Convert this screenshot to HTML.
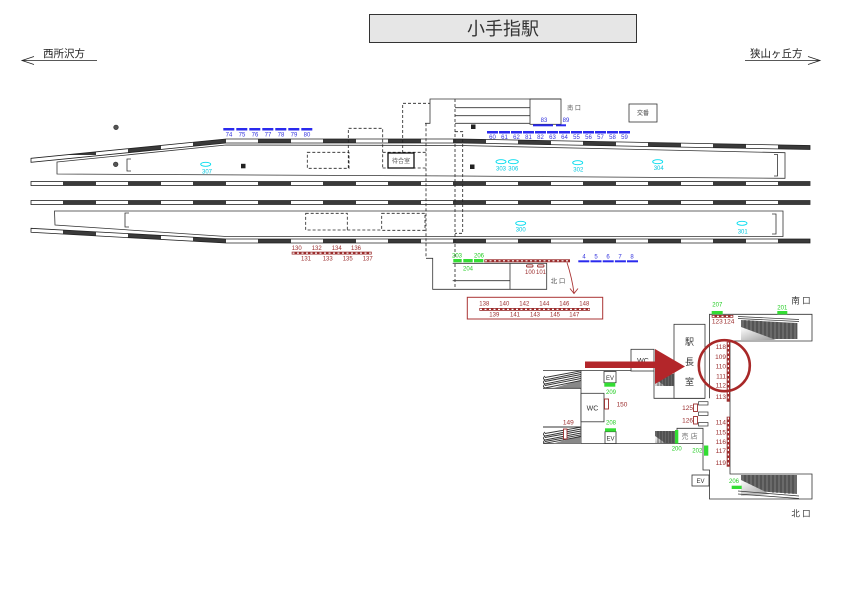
<!DOCTYPE html>
<html><head><meta charset="utf-8">
<style>
html,body{margin:0;padding:0;background:#fff;}
svg{display:block;}
text{font-family:"Liberation Sans","Noto Sans CJK JP",sans-serif;}
</style></head>
<body>
<svg width="842" height="595" viewBox="0 0 842 595" xmlns="http://www.w3.org/2000/svg">
<defs>
<clipPath id="ru"><polygon points="31,158.3 226,139 460,139 810,145.5 810,149.5 460,143 226,143 31,162.3"/></clipPath>
<clipPath id="rl"><polygon points="31,228.3 226,239 810,239 810,243 226,243 31,232.3"/></clipPath>
<linearGradient id="esc" x1="0" y1="0" x2="1" y2="1"><stop offset="0" stop-color="#fff"/><stop offset="1" stop-color="#999"/></linearGradient>
</defs>

<!-- Title -->
<rect x="369.5" y="14.5" width="267" height="28" fill="#e6e6e6" stroke="#333" stroke-width="1"/>
<text x="503" y="35" font-size="18" text-anchor="middle" fill="#333">小手指駅</text>

<!-- Direction labels -->
<text x="43" y="57" font-size="10.5" fill="#222">西所沢方</text>
<path d="M22,60.5 H97 M34,56.5 L22,60.5 L34,64.5" fill="none" stroke="#222" stroke-width="0.8"/>
<text x="750" y="57" font-size="10.5" fill="#222">狭山ヶ丘方</text>
<path d="M745,60.5 H820 M808,56.5 L820,60.5 L808,64.5" fill="none" stroke="#222" stroke-width="0.8"/>

<!-- Rails straight -->
<g stroke="#222" stroke-width="0.8">
<rect x="31" y="181.5" width="779" height="4" fill="#fff"/>
<rect x="31" y="200.5" width="779" height="4" fill="#fff"/>
</g>
<g fill="#3a3a3a">
<rect x="63" y="181.5" width="33" height="4"/><rect x="128" y="181.5" width="33" height="4"/><rect x="193" y="181.5" width="33" height="4"/><rect x="258" y="181.5" width="33" height="4"/><rect x="323" y="181.5" width="33" height="4"/><rect x="388" y="181.5" width="33" height="4"/><rect x="453" y="181.5" width="33" height="4"/><rect x="518" y="181.5" width="33" height="4"/><rect x="583" y="181.5" width="33" height="4"/><rect x="648" y="181.5" width="33" height="4"/><rect x="713" y="181.5" width="33" height="4"/><rect x="778" y="181.5" width="32" height="4"/>
<rect x="63" y="200.5" width="33" height="4"/><rect x="128" y="200.5" width="33" height="4"/><rect x="193" y="200.5" width="33" height="4"/><rect x="258" y="200.5" width="33" height="4"/><rect x="323" y="200.5" width="33" height="4"/><rect x="388" y="200.5" width="33" height="4"/><rect x="453" y="200.5" width="33" height="4"/><rect x="518" y="200.5" width="33" height="4"/><rect x="583" y="200.5" width="33" height="4"/><rect x="648" y="200.5" width="33" height="4"/><rect x="713" y="200.5" width="33" height="4"/><rect x="778" y="200.5" width="32" height="4"/>
</g>

<!-- Slanted outer rails -->
<polygon points="31,158.3 226,139 460,139 810,145.5 810,149.5 460,143 226,143 31,162.3" fill="#fff"/>
<g clip-path="url(#ru)" fill="#3a3a3a">
<rect x="63" y="130" width="33" height="25"/><rect x="128" y="130" width="33" height="25"/><rect x="193" y="130" width="33" height="25"/><rect x="258" y="130" width="33" height="25"/><rect x="323" y="130" width="33" height="25"/><rect x="388" y="130" width="33" height="25"/><rect x="453" y="130" width="33" height="25"/><rect x="518" y="130" width="33" height="25"/><rect x="583" y="130" width="33" height="25"/><rect x="648" y="130" width="33" height="25"/><rect x="713" y="130" width="33" height="25"/><rect x="778" y="130" width="33" height="25"/>
</g>
<polygon points="31,158.3 226,139 460,139 810,145.5 810,149.5 460,143 226,143 31,162.3" fill="none" stroke="#222" stroke-width="0.8"/>

<polygon points="31,228.3 226,239 810,239 810,243 226,243 31,232.3" fill="#fff"/>
<g clip-path="url(#rl)" fill="#3a3a3a">
<rect x="63" y="222" width="33" height="25"/><rect x="128" y="222" width="33" height="25"/><rect x="193" y="222" width="33" height="25"/><rect x="258" y="222" width="33" height="25"/><rect x="323" y="222" width="33" height="25"/><rect x="388" y="222" width="33" height="25"/><rect x="453" y="222" width="33" height="25"/><rect x="518" y="222" width="33" height="25"/><rect x="583" y="222" width="33" height="25"/><rect x="648" y="222" width="33" height="25"/><rect x="713" y="222" width="33" height="25"/><rect x="778" y="222" width="33" height="25"/>
</g>
<polygon points="31,228.3 226,239 810,239 810,243 226,243 31,232.3" fill="none" stroke="#222" stroke-width="0.8"/>

<!-- Platforms -->
<polygon points="57,162 226,145 460,145.5 785,152.7 785,178.3 460,176 57,174" fill="#fff" stroke="#333" stroke-width="0.8"/>
<polygon points="54.5,211 783,211 783,236.5 226,236.5 55,225" fill="#fff" stroke="#333" stroke-width="0.8"/>
<g fill="none" stroke="#333" stroke-width="0.8">
<path d="M131,159 H127 V171 H131"/>
<path d="M129,213 H125 V227 H129"/>
<path d="M774,154.5 H777.5 V176 H774"/>
<path d="M772,214 H776 V234 H772"/>
</g>

<!-- Dashed concourse outlines -->
<g fill="none" stroke="#222" stroke-width="0.8" stroke-dasharray="3,2">
<rect x="307.3" y="152.3" width="41.7" height="16"/>
<path d="M348.3,168 V128.3 H382.7 V168"/>
<path d="M382.7,152.3 H426 M382.7,168 H426"/>
<path d="M402.7,153 V103.3 H430"/>
<path d="M426,123.3 V258.3"/>
<path d="M455,99 V289"/>
<path d="M455,131.7 H462.7 V233.3 H455"/>
<rect x="305.7" y="213.3" width="41.6" height="16.7"/>
<rect x="381.7" y="213.3" width="43.3" height="17"/>
<path d="M347.3,230 H381.7"/>
</g>
<g fill="none" stroke="#333" stroke-width="0.8">
<path d="M425,123.3 H430 V99 H561"/>
<path d="M455,107.7 H530 M455,115.7 H530 M455,123.3 H530"/>
<rect x="530" y="99" width="31" height="25.3"/>
<path d="M426,258.3 H432.7 V289.3 H546.7 V263.3 H452.7"/>
<path d="M510,263.3 V289.3 M452.7,280.7 H510"/>
<rect x="629" y="104" width="28" height="18"/>
</g>
<rect x="388" y="153" width="26" height="15" fill="#fff" stroke="#111" stroke-width="1.3"/>
<text x="401" y="163" font-size="6" text-anchor="middle" fill="#555">待合室</text>
<text x="643" y="115" font-size="6" text-anchor="middle" fill="#444">交番</text>
<text x="574" y="110" font-size="6" text-anchor="middle" fill="#555">南 口</text>
<text x="558" y="283" font-size="6.5" text-anchor="middle" fill="#555">北 口</text>

<!-- Dots and squares -->
<circle cx="116" cy="127.3" r="2.3" fill="#555" stroke="#222" stroke-width="0.6"/>
<circle cx="115.7" cy="164.3" r="2.3" fill="#555" stroke="#222" stroke-width="0.6"/>
<rect x="241" y="163.8" width="4.5" height="4.5" fill="#222"/>
<rect x="471" y="124.5" width="4.5" height="4.5" fill="#222"/>
<rect x="470" y="164.5" width="4.5" height="4.5" fill="#222"/>

<!-- Cyan symbols -->
<g fill="none" stroke="#00dcee" stroke-width="0.9">
<ellipse cx="205.7" cy="164.3" rx="5" ry="2"/>
<ellipse cx="501" cy="161.7" rx="5" ry="2"/>
<ellipse cx="513.3" cy="161.7" rx="5" ry="2"/>
<ellipse cx="577.7" cy="162.7" rx="5" ry="2"/>
<ellipse cx="657.7" cy="161.7" rx="5" ry="2"/>
<ellipse cx="520.7" cy="223.3" rx="5" ry="2"/>
<ellipse cx="742" cy="223.3" rx="5" ry="2"/>
</g>
<g font-size="6" fill="#00c8e0" text-anchor="middle">
<text x="207" y="173.5">307</text>
<text x="501" y="170.5">303</text>
<text x="513.3" y="170.5">306</text>
<text x="578.3" y="171.5">302</text>
<text x="658.7" y="170">304</text>
<text x="520.7" y="231.5">300</text>
<text x="742.7" y="233.5">301</text>
</g>

<!-- Blue bars -->
<g fill="#2a2aee">
<rect x="223.3" y="128" width="11" height="2.5"/><rect x="236.3" y="128" width="11" height="2.5"/><rect x="249.3" y="128" width="11" height="2.5"/><rect x="262.3" y="128" width="11" height="2.5"/><rect x="275.3" y="128" width="11" height="2.5"/><rect x="288.3" y="128" width="11" height="2.5"/><rect x="301.3" y="128" width="11" height="2.5"/>
<rect x="487" y="131" width="11" height="2.5"/><rect x="499" y="131" width="11" height="2.5"/><rect x="511" y="131" width="11" height="2.5"/><rect x="523" y="131" width="11" height="2.5"/><rect x="535" y="131" width="11" height="2.5"/><rect x="547" y="131" width="11" height="2.5"/><rect x="559" y="131" width="11" height="2.5"/><rect x="571" y="131" width="11" height="2.5"/><rect x="583" y="131" width="11" height="2.5"/><rect x="595" y="131" width="11" height="2.5"/><rect x="607" y="131" width="11" height="2.5"/><rect x="619" y="131" width="11" height="2.5"/>
<rect x="533" y="124.3" width="20" height="2"/><rect x="556" y="124.3" width="10" height="2"/>
<rect x="578.3" y="260.3" width="11" height="2"/><rect x="590.5" y="260.3" width="11" height="2"/><rect x="602.7" y="260.3" width="11" height="2"/><rect x="614.9" y="260.3" width="11" height="2"/><rect x="627" y="260.3" width="11" height="2"/>
</g>
<g font-size="6" fill="#3333dd" text-anchor="middle">
<text x="229" y="136.5">74</text><text x="242" y="136.5">75</text><text x="255" y="136.5">76</text><text x="268" y="136.5">77</text><text x="281" y="136.5">78</text><text x="294" y="136.5">79</text><text x="307" y="136.5">80</text>
<text x="492.5" y="139">60</text><text x="504.5" y="139">61</text><text x="516.5" y="139">62</text><text x="528.5" y="139">81</text><text x="540.5" y="139">82</text><text x="552.5" y="139">63</text><text x="564.5" y="139">64</text><text x="576.5" y="139">55</text><text x="588.5" y="139">56</text><text x="600.5" y="139">57</text><text x="612.5" y="139">58</text><text x="624.5" y="139">59</text>
<text x="544" y="122">83</text><text x="566" y="122">89</text>
<text x="584" y="258.5">4</text><text x="596" y="258.5">5</text><text x="608" y="258.5">6</text><text x="620" y="258.5">7</text><text x="632" y="258.5">8</text>
</g>

<!-- Red gate bars -->
<rect x="291.7" y="251.7" width="80" height="2.8" fill="#9b2d2d"/>
<line x1="292.5" y1="253.1" x2="371" y2="253.1" stroke="#fff" stroke-width="1.2" stroke-dasharray="2,2.5"/>
<rect x="484.3" y="259.3" width="85.7" height="3" fill="#9b2d2d"/>
<line x1="485" y1="260.8" x2="569.5" y2="260.8" stroke="#fff" stroke-width="1.2" stroke-dasharray="2,2.5"/>
<rect x="479.3" y="308" width="110.7" height="2.8" fill="#9b2d2d"/>
<line x1="480" y1="309.4" x2="589.5" y2="309.4" stroke="#fff" stroke-width="1.2" stroke-dasharray="2,2.5"/>
<g fill="#fff" stroke="#9b2d2d" stroke-width="0.9">
<rect x="526.5" y="264.8" width="6.5" height="2.2" rx="1"/>
<rect x="537.5" y="264.8" width="6.5" height="2.2" rx="1"/>
</g>
<g font-size="6" fill="#9b2d2d" text-anchor="middle">
<text x="296.7" y="249.8">130</text><text x="316.7" y="249.8">132</text><text x="336.7" y="249.8">134</text><text x="356" y="249.8">136</text>
<text x="306" y="260.5">131</text><text x="327.7" y="260.5">133</text><text x="347.7" y="260.5">135</text><text x="367.7" y="260.5">137</text>
<text x="530" y="274">100</text><text x="541" y="274">101</text>
<text x="484.3" y="305.5">138</text><text x="504.3" y="305.5">140</text><text x="524.3" y="305.5">142</text><text x="544.3" y="305.5">144</text><text x="564.3" y="305.5">146</text><text x="584.3" y="305.5">148</text>
<text x="494.3" y="316.3">139</text><text x="515" y="316.3">141</text><text x="535" y="316.3">143</text><text x="555" y="316.3">145</text><text x="574.3" y="316.3">147</text>
</g>
<rect x="467.3" y="297.3" width="135.4" height="21.7" fill="none" stroke="#a33" stroke-width="1"/>
<path d="M567,262.5 Q572,278 574,293" fill="none" stroke="#a33" stroke-width="0.9"/>
<path d="M570,288.5 L574,293.5 L578,288.5" fill="none" stroke="#a33" stroke-width="0.9"/>

<!-- Green bars (main) -->
<g fill="#33dd33">
<rect x="453.3" y="259" width="8.4" height="3.3"/><rect x="463.3" y="259" width="9.4" height="3.3"/><rect x="474" y="259" width="9.3" height="3.3"/>
</g>
<g font-size="6" fill="#22cc22" text-anchor="middle">
<text x="457" y="257.3">203</text><text x="479" y="257.3">206</text><text x="468" y="270.5">204</text>
</g>

<!-- ===== Inset ===== -->
<g fill="none" stroke="#333" stroke-width="0.8">
<path d="M543,370.5 H631"/>
<path d="M581,370.5 V443.5"/>
<path d="M543,443.5 H703"/>
<rect x="581" y="393.3" width="23" height="28.5" fill="#fff"/>
<rect x="631" y="349.3" width="23" height="21.7" fill="#fff"/>
<path d="M654,371 V398.3 H705"/>
<rect x="674" y="324.3" width="31" height="74" fill="#fff"/>
<path d="M677,443.5 V428.3 H703 V470 H709.5 V499 H812 V474 H730 V341 H812 V314.3 H709.5 V398.3"/>
<rect x="692" y="475" width="17" height="11" fill="#fff"/>
<rect x="604" y="371.5" width="12" height="11.2" fill="#fff"/>
<rect x="605" y="431.7" width="11" height="11.8" fill="#fff"/>
</g>
<g fill="#fff" stroke="#333" stroke-width="0.7">
<rect x="698.5" y="401.7" width="9.5" height="3.3"/>
<rect x="698.5" y="412" width="9.5" height="3.5"/>
<rect x="698.5" y="422.5" width="9.5" height="3.5"/>
</g>

<!-- left escalators (side view) -->
<g>
<polygon points="553,388.3 581,380 581,388.3" fill="#888"/>
<g fill="none" stroke="#333" stroke-width="0.9">
<path d="M545,376 Q542,378.5 545,380 L581,372.5"/>
<path d="M545,377.5 L581,370.8"/>
<path d="M545,380 Q542,382.5 545,384 L581,376.5"/>
<path d="M545,381.5 L581,374.5"/>
<path d="M545,384 Q542,386.5 545,388 L581,380.5"/>
<path d="M545,385.5 L581,378.5"/>
<path d="M543,388.3 H581"/>
</g>
<polygon points="553,443.5 581,435.5 581,443.5" fill="#888"/>
<g fill="none" stroke="#333" stroke-width="0.9">
<path d="M543,427 H581"/>
<path d="M545,432 Q542,434.5 545,436 L581,429"/>
<path d="M545,433.5 L581,427.2"/>
<path d="M545,436 Q542,438.5 545,440 L581,433"/>
<path d="M545,437.5 L581,431"/>
<path d="M545,440 Q542,442.5 545,443.3 L581,436.5"/>
<path d="M545,441.5 L581,434.8"/>
</g>
</g>

<!-- small escalators -->
<g>
<polygon points="655,374 674,374 674,386 655,386" fill="#666"/>
<polygon points="655,379 655,386 665,386" fill="url(#esc)"/>
<path d="M658,374 V386 M661,374 V386 M664,374 V386 M667,374 V386 M670,374 V386 M673,374 V386" stroke="#222" stroke-width="0.6"/>
<polygon points="655,431 675,431 675,443 655,443" fill="#666"/>
<polygon points="655,436 655,443 665,443" fill="url(#esc)"/>
<path d="M658,431 V443 M661,431 V443 M664,431 V443 M667,431 V443 M670,431 V443 M673,431 V443" stroke="#222" stroke-width="0.6"/>
</g>

<!-- top right escalator -->
<g>
<polygon points="741,320 797,323 797,339 741,339" fill="#6a6a6a"/>
<path d="M745,320 V339 M749,320 V339 M753,320.5 V339 M757,321 V339 M761,321 V339 M765,321.5 V339 M769,321.5 V339 M773,322 V339 M777,322 V339 M781,322.5 V339 M785,322.5 V339 M789,323 V339 M793,323 V339 M797,323 V339" stroke="#222" stroke-width="0.6"/>
<polygon points="741,327 741,340 776,340" fill="url(#esc)"/>
<path d="M738,316.5 L799,319.5 M738,318.5 L799,321.5" stroke="#333" stroke-width="0.7" fill="none"/>
</g>
<!-- bottom right escalator -->
<g>
<polygon points="741,475 797,475 797,494 741,490" fill="#6a6a6a"/>
<path d="M745,475 V490 M749,475 V491 M753,475 V491 M757,475 V491 M761,475 V492 M765,475 V492 M769,475 V492 M773,475 V493 M777,475 V493 M781,475 V493 M785,475 V494 M789,475 V494 M793,475 V494" stroke="#222" stroke-width="0.6"/>
<polygon points="741,480 741,496 770,494" fill="url(#esc)"/>
<path d="M738,491 L799,496 M738,494 L799,498.5" stroke="#333" stroke-width="0.7" fill="none"/>
</g>

<!-- green bars inset -->
<g fill="#33dd33">
<rect x="604.3" y="382.7" width="11" height="4"/>
<rect x="605" y="428.3" width="11" height="3.4"/>
<rect x="675" y="430" width="3.3" height="13.5"/>
<rect x="704" y="445.5" width="4.3" height="10.2"/>
<rect x="711.7" y="311" width="11" height="3.3"/>
<rect x="777.3" y="311" width="10" height="3.3"/>
<rect x="731.7" y="485.7" width="10" height="3.3"/>
</g>
<g font-size="6" fill="#22cc22" text-anchor="middle">
<text x="611" y="394">209</text>
<text x="611" y="424.5">208</text>
<text x="676.7" y="450.5">200</text>
<text x="697.3" y="452.7">202</text>
<text x="717.3" y="306.5">207</text>
<text x="782.3" y="309.7">201</text>
<text x="734" y="482.8">206</text>
</g>

<!-- red gates inset -->
<rect x="726.7" y="341.7" width="3.3" height="60" fill="#9b2d2d"/>
<line x1="728.35" y1="342.5" x2="728.35" y2="401" stroke="#fff" stroke-width="1.3" stroke-dasharray="2,2.5"/>
<rect x="726.7" y="416.7" width="3.3" height="50" fill="#9b2d2d"/>
<line x1="728.35" y1="417.5" x2="728.35" y2="466" stroke="#fff" stroke-width="1.3" stroke-dasharray="2,2.5"/>
<rect x="711.7" y="315" width="21.6" height="2.7" fill="#9b2d2d"/>
<line x1="712.5" y1="316.35" x2="733" y2="316.35" stroke="#fff" stroke-width="1.2" stroke-dasharray="2,2.5"/>
<g fill="#fff" stroke="#9b2d2d" stroke-width="0.9">
<rect x="604.5" y="399" width="4" height="10"/>
<rect x="563.5" y="429" width="3.5" height="10"/>
<rect x="693.5" y="404" width="4" height="7.5"/>
<rect x="693.5" y="416.5" width="4" height="7.5"/>
</g>
<g font-size="6.5" fill="#9b2d2d" text-anchor="end">
<text x="726" y="349">118</text><text x="726" y="359">109</text><text x="726" y="368.3">110</text><text x="726" y="378.3">111</text><text x="726" y="387.3">112</text><text x="726" y="399">113</text>
<text x="726" y="424.6">114</text><text x="726" y="434.6">115</text><text x="726" y="444">116</text><text x="726" y="453">117</text><text x="726" y="465">119</text>
<text x="693" y="410">125</text><text x="693" y="422.3">126</text>
</g>
<g font-size="6.5" fill="#9b2d2d" text-anchor="middle">
<text x="622" y="406.5">150</text>
<text x="568.3" y="424.5">149</text>
<text x="717.3" y="323.3">123</text><text x="729" y="323.3">124</text>
</g>

<!-- inset texts -->
<g fill="#333" text-anchor="middle">
<text x="643" y="363" font-size="7">WC</text>
<text x="592.5" y="410.5" font-size="7">WC</text>
<text x="610" y="380" font-size="6">EV</text>
<text x="610.5" y="440.5" font-size="6">EV</text>
<text x="700.5" y="483" font-size="6">EV</text>
<text x="689.5" y="345" font-size="9">駅</text>
<text x="689.5" y="365" font-size="9">長</text>
<text x="689.5" y="385" font-size="9">室</text>
<text x="801" y="303.5" font-size="8.5">南 口</text>
<text x="801" y="516.5" font-size="8.5">北 口</text>
</g>
<text x="689.5" y="438.5" font-size="7" text-anchor="middle" fill="#777">売 店</text>

<!-- Big red arrow and circle -->
<polygon points="585,361.5 655,361.5 655,349 685,366.5 655,384 655,368 585,368" fill="#b3262a"/>
<circle cx="724.3" cy="365.7" r="25.5" fill="none" stroke="#a82828" stroke-width="2.6"/>
</svg>
</body></html>
